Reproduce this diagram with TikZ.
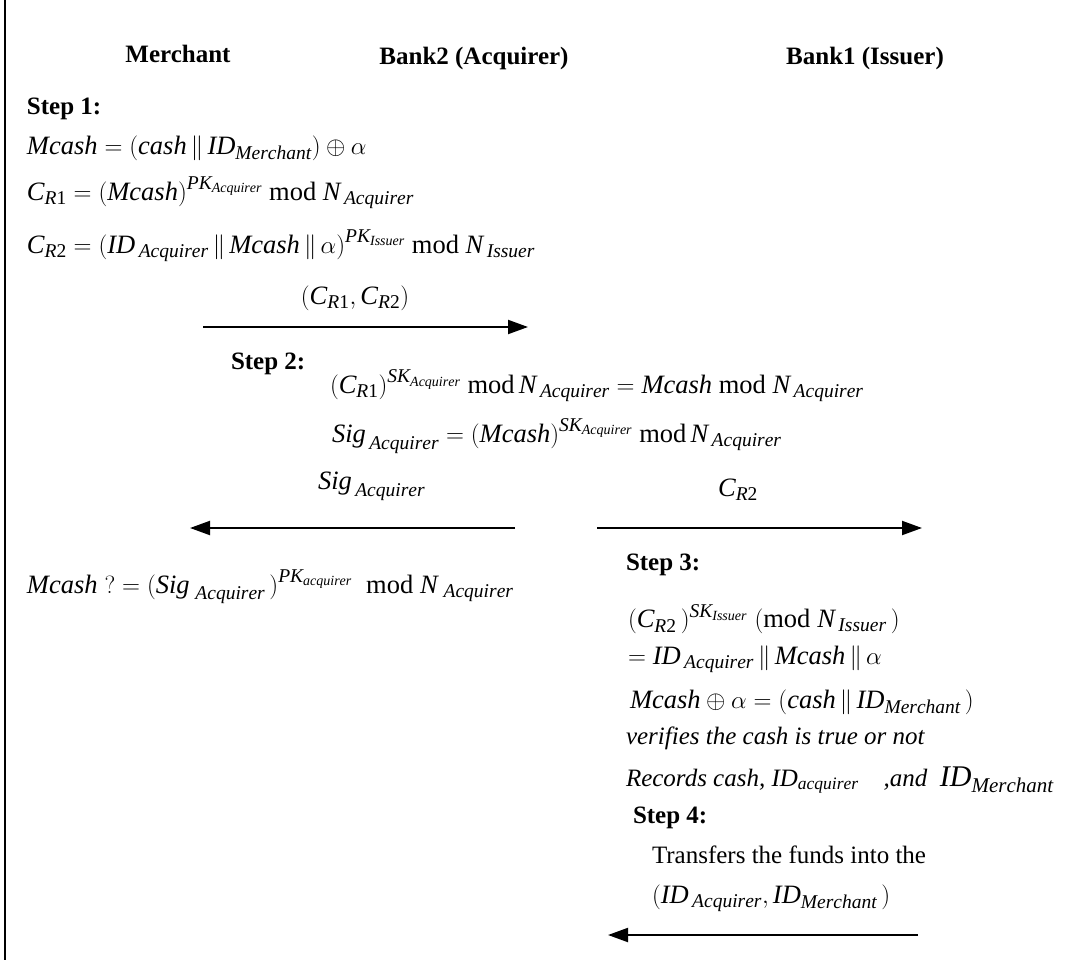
\documentclass[tikz,border=0pt]{standalone}
\usepackage{fontspec}
\setmainfont{Liberation Serif}
\usetikzlibrary{arrows.meta}
\DeclareMathSizes{26.5}{26.5}{19.5}{14}
\newcommand{\V}[1]{\mathit{#1}}
\newcommand{\md}{\mathrm{mod}}
\newcommand{\lp}{\mathopen{\mathrm{(}}}
\newcommand{\rp}{\mathclose{\mathrm{)}}}
\newcommand{\one}{\mathrm{1}}
\newcommand{\two}{\mathrm{2}}
\begin{document}
\begin{tikzpicture}[x=1pt,y=-1pt,
  every node/.style={inner sep=0pt,outer sep=0pt},
  hdr/.style={font=\fontsize{25}{30}\selectfont\bfseries},
  stp/.style={font=\fontsize{25}{30}\selectfont\bfseries,anchor=west},
  eq/.style={font=\fontsize{26.5}{30}\selectfont,anchor=west},
  tx/.style={font=\fontsize{25}{30}\selectfont,anchor=west},
  lbl/.style={font=\fontsize{26.5}{30}\selectfont},
  msg/.style={line width=2pt,-{Triangle[length=20pt,width=14pt]}}]
\useasboundingbox (0,0) rectangle (1083,960);
\draw[line width=2.5pt] (5,0) -- (5,960);
% headers
\node[hdr] (mer) at (178,54) {Merchant};
\node[hdr] (acq) at (474,58) {Bank2 (Acquirer)};
\node[hdr] (iss) at (865,58) {Bank1 (Issuer)};
% step 1
\node[stp] (s1) at (27,109) {Step 1:};
\node[eq] (e11) at (27,148) {$\V{Mcash} = \lp\V{cash}\,\|\,\V{ID}_{\V{Merchant}}\rp\oplus\alpha$};
\node[eq] (e12) at (27,193) {$\V{C}_{\V{R}\one} = \lp\V{Mcash}\rp^{\V{PK}_{\V{Acquirer}}}\ \md\ \V{N}_{\,\V{Acquirer}}$};
\node[eq] (e13) at (27,246) {$\V{C}_{\V{R}\two} = \lp\V{ID}_{\,\V{Acquirer}}\,\|\,\V{Mcash}\,\|\,\alpha\rp^{\V{PK}_{\V{Issuer}}}\ \md\ \V{N}_{\,\V{Issuer}}$};
\node[lbl] (l1) at (355,298) {$\lp\V{C}_{\V{R}\one},\V{C}_{\V{R}\two}\rp$};
\coordinate (a1s) at (203,327);
\coordinate (a1e) at (528,327);
\draw[msg] (a1s) -- (a1e);
% step 2
\node[stp] (s2) at (231,364) {Step 2:};
\node[eq] (e21) at (330,386) {$\lp\V{C}_{\V{R}\one}\rp^{\V{SK}_{\V{Acquirer}}}\ \md\,\V{N}_{\,\V{Acquirer}} = \V{Mcash}\ \md\ \V{N}_{\,\V{Acquirer}}$};
\node[eq] (e22) at (332,436) {$\V{Sig}_{\,\V{Acquirer}} = \lp\V{Mcash}\rp^{\V{SK}_{\V{Acquirer}}}\ \md\,\V{N}_{\,\V{Acquirer}}$};
\node[lbl,anchor=west] (l2) at (318,486) {$\V{Sig}_{\,\V{Acquirer}}$};
\node[lbl] (l3) at (738,490) {$\V{C}_{\V{R}\two}$};
\coordinate (a2s) at (515,528);
\coordinate (a2e) at (190,528);
\draw[msg] (a2s) -- (a2e);
\coordinate (a3s) at (597,528);
\coordinate (a3e) at (922,528);
\draw[msg] (a3s) -- (a3e);
\node[eq] (e23) at (27,587) {$\V{Mcash}\;?\mathrel{=}\lp\V{Sig}_{\;\V{Acquirer}}\,\rp^{\V{PK}_{\V{acquirer}}}\;\;\md\;\V{N}_{\;\V{Acquirer}}$};
% step 3
\node[stp] (s3) at (626,565) {Step 3:};
\node[eq] (e31) at (628,619) {$\lp\V{C}_{\V{R}\two}\,\rp^{\V{SK}_{\V{Issuer}}}\;\lp\md\;\V{N}_{\,\V{Issuer}}\,\rp$};
\node[eq] (e32) at (628,659) {$= \V{ID}_{\,\V{Acquirer}}\,\|\,\V{Mcash}\,\|\,\alpha$};
\node[eq] (e33) at (630,702) {$\V{Mcash}\oplus\alpha = \lp\V{cash}\,\|\,\V{ID}_{\V{Merchant}}\,\rp$};
\node[tx] (e34) at (626,738) {\itshape verifies the cash is true or not};
\node[tx] (e35) at (626,780) {\itshape Records cash, $\V{ID}_{\V{acquirer}}$\quad,and\enspace{\fontsize{30}{34}\selectfont$\V{ID}_{\V{Merchant}}$}};
% step 4
\node[stp] (s4) at (633,818) {Step 4:};
\node[tx] (e41) at (652,855) {Transfers the funds into the};
\node[eq] (e42) at (652,898) {$\lp\V{ID}_{\,\V{Acquirer}},\V{ID}_{\V{Merchant}}\,\rp$};
\coordinate (a4s) at (918,935);
\coordinate (a4e) at (608,935);
\draw[msg] (a4s) -- (a4e);
\end{tikzpicture}
\end{document}
